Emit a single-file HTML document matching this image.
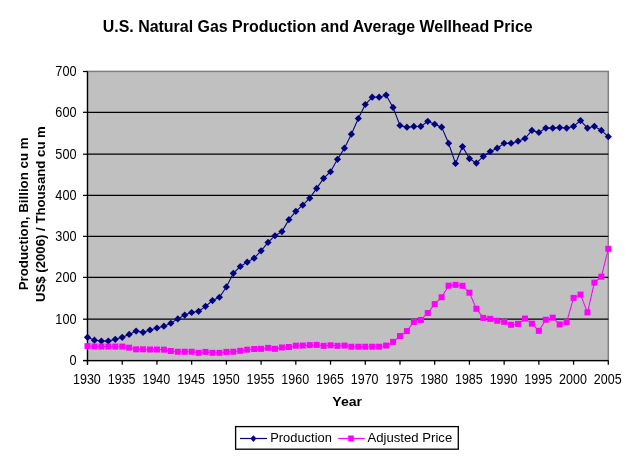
<!DOCTYPE html><html><head><meta charset="utf-8"><style>html,body{margin:0;padding:0;background:#fff;width:636px;height:456px;overflow:hidden;position:relative}</style></head><body><svg width="636" height="456" viewBox="0 0 636 456" style="position:absolute;left:0;top:0;will-change:transform">
<rect x="0" y="0" width="636" height="456" fill="#fff"/>
<rect x="87.5" y="71.4" width="520.8" height="289.1" fill="#C0C0C0" stroke="#808080" stroke-width="1.5"/>
<line x1="87.5" y1="319.20" x2="608.3" y2="319.20" stroke="#000" stroke-width="1.25"/>
<line x1="87.5" y1="277.40" x2="608.3" y2="277.40" stroke="#000" stroke-width="1.25"/>
<line x1="87.5" y1="236.40" x2="608.3" y2="236.40" stroke="#000" stroke-width="1.25"/>
<line x1="87.5" y1="195.40" x2="608.3" y2="195.40" stroke="#000" stroke-width="1.25"/>
<line x1="87.5" y1="154.20" x2="608.3" y2="154.20" stroke="#000" stroke-width="1.25"/>
<line x1="87.5" y1="112.30" x2="608.3" y2="112.30" stroke="#000" stroke-width="1.25"/>
<line x1="87.5" y1="71.4" x2="87.5" y2="364.7" stroke="#000" stroke-width="1.25"/>
<line x1="83.0" y1="360.5" x2="608.3" y2="360.5" stroke="#000" stroke-width="1.25"/>
<line x1="83.0" y1="360.50" x2="87.5" y2="360.50" stroke="#000" stroke-width="1.25"/>
<line x1="83.0" y1="319.20" x2="87.5" y2="319.20" stroke="#000" stroke-width="1.25"/>
<line x1="83.0" y1="277.40" x2="87.5" y2="277.40" stroke="#000" stroke-width="1.25"/>
<line x1="83.0" y1="236.40" x2="87.5" y2="236.40" stroke="#000" stroke-width="1.25"/>
<line x1="83.0" y1="195.40" x2="87.5" y2="195.40" stroke="#000" stroke-width="1.25"/>
<line x1="83.0" y1="154.20" x2="87.5" y2="154.20" stroke="#000" stroke-width="1.25"/>
<line x1="83.0" y1="112.30" x2="87.5" y2="112.30" stroke="#000" stroke-width="1.25"/>
<line x1="83.0" y1="71.50" x2="87.5" y2="71.50" stroke="#000" stroke-width="1.25"/>
<line x1="87.50" y1="360.5" x2="87.50" y2="364.7" stroke="#000" stroke-width="1.25"/>
<line x1="122.22" y1="360.5" x2="122.22" y2="364.7" stroke="#000" stroke-width="1.25"/>
<line x1="156.94" y1="360.5" x2="156.94" y2="364.7" stroke="#000" stroke-width="1.25"/>
<line x1="191.66" y1="360.5" x2="191.66" y2="364.7" stroke="#000" stroke-width="1.25"/>
<line x1="226.38" y1="360.5" x2="226.38" y2="364.7" stroke="#000" stroke-width="1.25"/>
<line x1="261.10" y1="360.5" x2="261.10" y2="364.7" stroke="#000" stroke-width="1.25"/>
<line x1="295.82" y1="360.5" x2="295.82" y2="364.7" stroke="#000" stroke-width="1.25"/>
<line x1="330.54" y1="360.5" x2="330.54" y2="364.7" stroke="#000" stroke-width="1.25"/>
<line x1="365.26" y1="360.5" x2="365.26" y2="364.7" stroke="#000" stroke-width="1.25"/>
<line x1="399.98" y1="360.5" x2="399.98" y2="364.7" stroke="#000" stroke-width="1.25"/>
<line x1="434.70" y1="360.5" x2="434.70" y2="364.7" stroke="#000" stroke-width="1.25"/>
<line x1="469.42" y1="360.5" x2="469.42" y2="364.7" stroke="#000" stroke-width="1.25"/>
<line x1="504.14" y1="360.5" x2="504.14" y2="364.7" stroke="#000" stroke-width="1.25"/>
<line x1="538.86" y1="360.5" x2="538.86" y2="364.7" stroke="#000" stroke-width="1.25"/>
<line x1="573.58" y1="360.5" x2="573.58" y2="364.7" stroke="#000" stroke-width="1.25"/>
<line x1="608.30" y1="360.5" x2="608.30" y2="364.7" stroke="#000" stroke-width="1.25"/>
<text transform="translate(76.5,364.90) scale(1,1.1)" text-anchor="end" font-family='"Liberation Sans", sans-serif' font-size="12.7" fill="#000">0</text>
<text transform="translate(76.5,323.60) scale(1,1.1)" text-anchor="end" font-family='"Liberation Sans", sans-serif' font-size="12.7" fill="#000">100</text>
<text transform="translate(76.5,281.80) scale(1,1.1)" text-anchor="end" font-family='"Liberation Sans", sans-serif' font-size="12.7" fill="#000">200</text>
<text transform="translate(76.5,240.80) scale(1,1.1)" text-anchor="end" font-family='"Liberation Sans", sans-serif' font-size="12.7" fill="#000">300</text>
<text transform="translate(76.5,199.80) scale(1,1.1)" text-anchor="end" font-family='"Liberation Sans", sans-serif' font-size="12.7" fill="#000">400</text>
<text transform="translate(76.5,158.60) scale(1,1.1)" text-anchor="end" font-family='"Liberation Sans", sans-serif' font-size="12.7" fill="#000">500</text>
<text transform="translate(76.5,116.70) scale(1,1.1)" text-anchor="end" font-family='"Liberation Sans", sans-serif' font-size="12.7" fill="#000">600</text>
<text transform="translate(76.5,75.90) scale(1,1.1)" text-anchor="end" font-family='"Liberation Sans", sans-serif' font-size="12.7" fill="#000">700</text>
<text transform="translate(86.90,383.5) scale(1,1.12)" text-anchor="middle" font-family='"Liberation Sans", sans-serif' font-size="12.5" fill="#000">1930</text>
<text transform="translate(121.62,383.5) scale(1,1.12)" text-anchor="middle" font-family='"Liberation Sans", sans-serif' font-size="12.5" fill="#000">1935</text>
<text transform="translate(156.34,383.5) scale(1,1.12)" text-anchor="middle" font-family='"Liberation Sans", sans-serif' font-size="12.5" fill="#000">1940</text>
<text transform="translate(191.06,383.5) scale(1,1.12)" text-anchor="middle" font-family='"Liberation Sans", sans-serif' font-size="12.5" fill="#000">1945</text>
<text transform="translate(225.78,383.5) scale(1,1.12)" text-anchor="middle" font-family='"Liberation Sans", sans-serif' font-size="12.5" fill="#000">1950</text>
<text transform="translate(260.50,383.5) scale(1,1.12)" text-anchor="middle" font-family='"Liberation Sans", sans-serif' font-size="12.5" fill="#000">1955</text>
<text transform="translate(295.22,383.5) scale(1,1.12)" text-anchor="middle" font-family='"Liberation Sans", sans-serif' font-size="12.5" fill="#000">1960</text>
<text transform="translate(329.94,383.5) scale(1,1.12)" text-anchor="middle" font-family='"Liberation Sans", sans-serif' font-size="12.5" fill="#000">1965</text>
<text transform="translate(364.66,383.5) scale(1,1.12)" text-anchor="middle" font-family='"Liberation Sans", sans-serif' font-size="12.5" fill="#000">1970</text>
<text transform="translate(399.38,383.5) scale(1,1.12)" text-anchor="middle" font-family='"Liberation Sans", sans-serif' font-size="12.5" fill="#000">1975</text>
<text transform="translate(434.10,383.5) scale(1,1.12)" text-anchor="middle" font-family='"Liberation Sans", sans-serif' font-size="12.5" fill="#000">1980</text>
<text transform="translate(468.82,383.5) scale(1,1.12)" text-anchor="middle" font-family='"Liberation Sans", sans-serif' font-size="12.5" fill="#000">1985</text>
<text transform="translate(503.54,383.5) scale(1,1.12)" text-anchor="middle" font-family='"Liberation Sans", sans-serif' font-size="12.5" fill="#000">1990</text>
<text transform="translate(538.26,383.5) scale(1,1.12)" text-anchor="middle" font-family='"Liberation Sans", sans-serif' font-size="12.5" fill="#000">1995</text>
<text transform="translate(572.98,383.5) scale(1,1.12)" text-anchor="middle" font-family='"Liberation Sans", sans-serif' font-size="12.5" fill="#000">2000</text>
<text transform="translate(607.70,383.5) scale(1,1.12)" text-anchor="middle" font-family='"Liberation Sans", sans-serif' font-size="12.5" fill="#000">2005</text>
<polyline points="87.50,337.29 94.44,340.18 101.39,341.01 108.33,341.01 115.28,339.36 122.22,337.29 129.16,334.40 136.11,331.10 143.05,332.34 150.00,329.99 156.94,328.00 163.88,326.15 170.83,323.26 177.77,318.88 184.72,315.08 191.66,312.52 198.60,311.28 205.55,306.33 212.49,300.55 219.44,297.25 226.38,286.92 233.32,273.30 240.27,266.49 247.21,262.15 254.16,258.19 261.10,250.80 268.04,242.42 274.99,235.73 281.93,231.60 288.88,219.63 295.82,211.37 302.76,205.18 309.71,198.16 316.65,188.42 323.60,178.34 330.54,171.74 337.48,159.35 344.43,148.20 351.37,134.17 358.32,118.48 365.26,104.52 372.20,97.22 379.15,97.22 386.09,95.11 393.04,107.41 399.98,125.50 406.92,127.15 413.87,126.41 420.81,126.41 427.76,121.37 434.70,124.26 441.64,127.15 448.59,143.25 455.53,163.48 462.48,146.55 469.42,158.53 476.36,163.07 483.31,156.46 490.25,151.51 497.20,148.20 504.14,143.25 511.08,143.25 518.03,141.19 524.97,138.50 531.92,130.45 538.86,132.52 545.80,128.10 552.75,128.10 559.69,127.56 566.64,128.10 573.58,126.32 580.52,120.54 587.47,128.10 594.41,126.32 601.36,130.45 608.30,136.64" fill="none" stroke="#000080" stroke-width="1.05"/>
<polyline points="87.50,346.13 94.44,346.50 101.39,346.58 108.33,346.58 115.28,346.58 122.22,346.58 129.16,347.70 136.11,349.31 143.05,349.31 150.00,349.51 156.94,349.51 163.88,349.68 170.83,351.00 177.77,351.74 184.72,351.74 191.66,351.74 198.60,352.82 205.55,351.91 212.49,352.82 219.44,352.82 226.38,351.91 233.32,351.74 240.27,350.79 247.21,349.68 254.16,349.02 261.10,348.85 268.04,347.90 274.99,348.85 281.93,347.49 288.88,347.04 295.82,345.72 302.76,345.59 309.71,345.14 316.65,344.93 323.60,345.84 330.54,345.30 337.48,345.84 344.43,345.59 351.37,346.71 358.32,346.71 365.26,346.71 372.20,346.71 379.15,346.71 386.09,345.59 393.04,341.92 399.98,336.05 406.92,331.10 413.87,321.89 420.81,319.95 427.76,313.02 434.70,304.10 441.64,297.25 448.59,285.69 455.53,284.86 462.48,285.81 469.42,292.70 476.36,308.81 483.31,317.89 490.25,318.88 497.20,320.78 504.14,321.81 511.08,324.78 518.03,323.92 524.97,318.59 531.92,323.67 538.86,330.81 545.80,319.75 552.75,317.68 559.69,324.49 566.64,322.10 573.58,297.91 580.52,294.60 587.47,312.40 594.41,282.59 601.36,276.69 608.30,248.82" fill="none" stroke="#FF00FF" stroke-width="1.05"/>
<path d="M87.50 333.69L91.10 337.29L87.50 340.89L83.90 337.29Z" fill="#000080"/>
<path d="M94.44 336.58L98.04 340.18L94.44 343.78L90.84 340.18Z" fill="#000080"/>
<path d="M101.39 337.41L104.99 341.01L101.39 344.61L97.79 341.01Z" fill="#000080"/>
<path d="M108.33 337.41L111.93 341.01L108.33 344.61L104.73 341.01Z" fill="#000080"/>
<path d="M115.28 335.76L118.88 339.36L115.28 342.96L111.68 339.36Z" fill="#000080"/>
<path d="M122.22 333.69L125.82 337.29L122.22 340.89L118.62 337.29Z" fill="#000080"/>
<path d="M129.16 330.80L132.76 334.40L129.16 338.00L125.56 334.40Z" fill="#000080"/>
<path d="M136.11 327.50L139.71 331.10L136.11 334.70L132.51 331.10Z" fill="#000080"/>
<path d="M143.05 328.74L146.65 332.34L143.05 335.94L139.45 332.34Z" fill="#000080"/>
<path d="M150.00 326.39L153.60 329.99L150.00 333.59L146.40 329.99Z" fill="#000080"/>
<path d="M156.94 324.40L160.54 328.00L156.94 331.60L153.34 328.00Z" fill="#000080"/>
<path d="M163.88 322.55L167.48 326.15L163.88 329.75L160.28 326.15Z" fill="#000080"/>
<path d="M170.83 319.66L174.43 323.26L170.83 326.86L167.23 323.26Z" fill="#000080"/>
<path d="M177.77 315.28L181.37 318.88L177.77 322.48L174.17 318.88Z" fill="#000080"/>
<path d="M184.72 311.48L188.32 315.08L184.72 318.68L181.12 315.08Z" fill="#000080"/>
<path d="M191.66 308.92L195.26 312.52L191.66 316.12L188.06 312.52Z" fill="#000080"/>
<path d="M198.60 307.68L202.20 311.28L198.60 314.88L195.00 311.28Z" fill="#000080"/>
<path d="M205.55 302.73L209.15 306.33L205.55 309.93L201.95 306.33Z" fill="#000080"/>
<path d="M212.49 296.95L216.09 300.55L212.49 304.15L208.89 300.55Z" fill="#000080"/>
<path d="M219.44 293.65L223.04 297.25L219.44 300.85L215.84 297.25Z" fill="#000080"/>
<path d="M226.38 283.32L229.98 286.92L226.38 290.52L222.78 286.92Z" fill="#000080"/>
<path d="M233.32 269.70L236.92 273.30L233.32 276.90L229.72 273.30Z" fill="#000080"/>
<path d="M240.27 262.89L243.87 266.49L240.27 270.09L236.67 266.49Z" fill="#000080"/>
<path d="M247.21 258.55L250.81 262.15L247.21 265.75L243.61 262.15Z" fill="#000080"/>
<path d="M254.16 254.59L257.76 258.19L254.16 261.79L250.56 258.19Z" fill="#000080"/>
<path d="M261.10 247.20L264.70 250.80L261.10 254.40L257.50 250.80Z" fill="#000080"/>
<path d="M268.04 238.82L271.64 242.42L268.04 246.02L264.44 242.42Z" fill="#000080"/>
<path d="M274.99 232.13L278.59 235.73L274.99 239.33L271.39 235.73Z" fill="#000080"/>
<path d="M281.93 228.00L285.53 231.60L281.93 235.20L278.33 231.60Z" fill="#000080"/>
<path d="M288.88 216.03L292.48 219.63L288.88 223.23L285.28 219.63Z" fill="#000080"/>
<path d="M295.82 207.77L299.42 211.37L295.82 214.97L292.22 211.37Z" fill="#000080"/>
<path d="M302.76 201.58L306.36 205.18L302.76 208.78L299.16 205.18Z" fill="#000080"/>
<path d="M309.71 194.56L313.31 198.16L309.71 201.76L306.11 198.16Z" fill="#000080"/>
<path d="M316.65 184.82L320.25 188.42L316.65 192.02L313.05 188.42Z" fill="#000080"/>
<path d="M323.60 174.74L327.20 178.34L323.60 181.94L320.00 178.34Z" fill="#000080"/>
<path d="M330.54 168.14L334.14 171.74L330.54 175.34L326.94 171.74Z" fill="#000080"/>
<path d="M337.48 155.75L341.08 159.35L337.48 162.95L333.88 159.35Z" fill="#000080"/>
<path d="M344.43 144.60L348.03 148.20L344.43 151.80L340.83 148.20Z" fill="#000080"/>
<path d="M351.37 130.57L354.97 134.17L351.37 137.77L347.77 134.17Z" fill="#000080"/>
<path d="M358.32 114.88L361.92 118.48L358.32 122.08L354.72 118.48Z" fill="#000080"/>
<path d="M365.26 100.92L368.86 104.52L365.26 108.12L361.66 104.52Z" fill="#000080"/>
<path d="M372.20 93.62L375.80 97.22L372.20 100.82L368.60 97.22Z" fill="#000080"/>
<path d="M379.15 93.62L382.75 97.22L379.15 100.82L375.55 97.22Z" fill="#000080"/>
<path d="M386.09 91.51L389.69 95.11L386.09 98.71L382.49 95.11Z" fill="#000080"/>
<path d="M393.04 103.81L396.64 107.41L393.04 111.01L389.44 107.41Z" fill="#000080"/>
<path d="M399.98 121.90L403.58 125.50L399.98 129.10L396.38 125.50Z" fill="#000080"/>
<path d="M406.92 123.55L410.52 127.15L406.92 130.75L403.32 127.15Z" fill="#000080"/>
<path d="M413.87 122.81L417.47 126.41L413.87 130.01L410.27 126.41Z" fill="#000080"/>
<path d="M420.81 122.81L424.41 126.41L420.81 130.01L417.21 126.41Z" fill="#000080"/>
<path d="M427.76 117.77L431.36 121.37L427.76 124.97L424.16 121.37Z" fill="#000080"/>
<path d="M434.70 120.66L438.30 124.26L434.70 127.86L431.10 124.26Z" fill="#000080"/>
<path d="M441.64 123.55L445.24 127.15L441.64 130.75L438.04 127.15Z" fill="#000080"/>
<path d="M448.59 139.65L452.19 143.25L448.59 146.85L444.99 143.25Z" fill="#000080"/>
<path d="M455.53 159.88L459.13 163.48L455.53 167.08L451.93 163.48Z" fill="#000080"/>
<path d="M462.48 142.95L466.08 146.55L462.48 150.15L458.88 146.55Z" fill="#000080"/>
<path d="M469.42 154.93L473.02 158.53L469.42 162.13L465.82 158.53Z" fill="#000080"/>
<path d="M476.36 159.47L479.96 163.07L476.36 166.67L472.76 163.07Z" fill="#000080"/>
<path d="M483.31 152.86L486.91 156.46L483.31 160.06L479.71 156.46Z" fill="#000080"/>
<path d="M490.25 147.91L493.85 151.51L490.25 155.11L486.65 151.51Z" fill="#000080"/>
<path d="M497.20 144.60L500.80 148.20L497.20 151.80L493.60 148.20Z" fill="#000080"/>
<path d="M504.14 139.65L507.74 143.25L504.14 146.85L500.54 143.25Z" fill="#000080"/>
<path d="M511.08 139.65L514.68 143.25L511.08 146.85L507.48 143.25Z" fill="#000080"/>
<path d="M518.03 137.59L521.63 141.19L518.03 144.79L514.43 141.19Z" fill="#000080"/>
<path d="M524.97 134.90L528.57 138.50L524.97 142.10L521.37 138.50Z" fill="#000080"/>
<path d="M531.92 126.85L535.52 130.45L531.92 134.05L528.32 130.45Z" fill="#000080"/>
<path d="M538.86 128.92L542.46 132.52L538.86 136.12L535.26 132.52Z" fill="#000080"/>
<path d="M545.80 124.50L549.40 128.10L545.80 131.70L542.20 128.10Z" fill="#000080"/>
<path d="M552.75 124.50L556.35 128.10L552.75 131.70L549.15 128.10Z" fill="#000080"/>
<path d="M559.69 123.96L563.29 127.56L559.69 131.16L556.09 127.56Z" fill="#000080"/>
<path d="M566.64 124.50L570.24 128.10L566.64 131.70L563.04 128.10Z" fill="#000080"/>
<path d="M573.58 122.72L577.18 126.32L573.58 129.92L569.98 126.32Z" fill="#000080"/>
<path d="M580.52 116.94L584.12 120.54L580.52 124.14L576.92 120.54Z" fill="#000080"/>
<path d="M587.47 124.50L591.07 128.10L587.47 131.70L583.87 128.10Z" fill="#000080"/>
<path d="M594.41 122.72L598.01 126.32L594.41 129.92L590.81 126.32Z" fill="#000080"/>
<path d="M601.36 126.85L604.96 130.45L601.36 134.05L597.76 130.45Z" fill="#000080"/>
<path d="M608.30 133.04L611.90 136.64L608.30 140.24L604.70 136.64Z" fill="#000080"/>
<rect x="84.50" y="343.13" width="6.0" height="6.0" fill="#FF00FF"/>
<rect x="91.44" y="343.50" width="6.0" height="6.0" fill="#FF00FF"/>
<rect x="98.39" y="343.58" width="6.0" height="6.0" fill="#FF00FF"/>
<rect x="105.33" y="343.58" width="6.0" height="6.0" fill="#FF00FF"/>
<rect x="112.28" y="343.58" width="6.0" height="6.0" fill="#FF00FF"/>
<rect x="119.22" y="343.58" width="6.0" height="6.0" fill="#FF00FF"/>
<rect x="126.16" y="344.70" width="6.0" height="6.0" fill="#FF00FF"/>
<rect x="133.11" y="346.31" width="6.0" height="6.0" fill="#FF00FF"/>
<rect x="140.05" y="346.31" width="6.0" height="6.0" fill="#FF00FF"/>
<rect x="147.00" y="346.51" width="6.0" height="6.0" fill="#FF00FF"/>
<rect x="153.94" y="346.51" width="6.0" height="6.0" fill="#FF00FF"/>
<rect x="160.88" y="346.68" width="6.0" height="6.0" fill="#FF00FF"/>
<rect x="167.83" y="348.00" width="6.0" height="6.0" fill="#FF00FF"/>
<rect x="174.77" y="348.74" width="6.0" height="6.0" fill="#FF00FF"/>
<rect x="181.72" y="348.74" width="6.0" height="6.0" fill="#FF00FF"/>
<rect x="188.66" y="348.74" width="6.0" height="6.0" fill="#FF00FF"/>
<rect x="195.60" y="349.82" width="6.0" height="6.0" fill="#FF00FF"/>
<rect x="202.55" y="348.91" width="6.0" height="6.0" fill="#FF00FF"/>
<rect x="209.49" y="349.82" width="6.0" height="6.0" fill="#FF00FF"/>
<rect x="216.44" y="349.82" width="6.0" height="6.0" fill="#FF00FF"/>
<rect x="223.38" y="348.91" width="6.0" height="6.0" fill="#FF00FF"/>
<rect x="230.32" y="348.74" width="6.0" height="6.0" fill="#FF00FF"/>
<rect x="237.27" y="347.79" width="6.0" height="6.0" fill="#FF00FF"/>
<rect x="244.21" y="346.68" width="6.0" height="6.0" fill="#FF00FF"/>
<rect x="251.16" y="346.02" width="6.0" height="6.0" fill="#FF00FF"/>
<rect x="258.10" y="345.85" width="6.0" height="6.0" fill="#FF00FF"/>
<rect x="265.04" y="344.90" width="6.0" height="6.0" fill="#FF00FF"/>
<rect x="271.99" y="345.85" width="6.0" height="6.0" fill="#FF00FF"/>
<rect x="278.93" y="344.49" width="6.0" height="6.0" fill="#FF00FF"/>
<rect x="285.88" y="344.04" width="6.0" height="6.0" fill="#FF00FF"/>
<rect x="292.82" y="342.72" width="6.0" height="6.0" fill="#FF00FF"/>
<rect x="299.76" y="342.59" width="6.0" height="6.0" fill="#FF00FF"/>
<rect x="306.71" y="342.14" width="6.0" height="6.0" fill="#FF00FF"/>
<rect x="313.65" y="341.93" width="6.0" height="6.0" fill="#FF00FF"/>
<rect x="320.60" y="342.84" width="6.0" height="6.0" fill="#FF00FF"/>
<rect x="327.54" y="342.30" width="6.0" height="6.0" fill="#FF00FF"/>
<rect x="334.48" y="342.84" width="6.0" height="6.0" fill="#FF00FF"/>
<rect x="341.43" y="342.59" width="6.0" height="6.0" fill="#FF00FF"/>
<rect x="348.37" y="343.71" width="6.0" height="6.0" fill="#FF00FF"/>
<rect x="355.32" y="343.71" width="6.0" height="6.0" fill="#FF00FF"/>
<rect x="362.26" y="343.71" width="6.0" height="6.0" fill="#FF00FF"/>
<rect x="369.20" y="343.71" width="6.0" height="6.0" fill="#FF00FF"/>
<rect x="376.15" y="343.71" width="6.0" height="6.0" fill="#FF00FF"/>
<rect x="383.09" y="342.59" width="6.0" height="6.0" fill="#FF00FF"/>
<rect x="390.04" y="338.92" width="6.0" height="6.0" fill="#FF00FF"/>
<rect x="396.98" y="333.05" width="6.0" height="6.0" fill="#FF00FF"/>
<rect x="403.92" y="328.10" width="6.0" height="6.0" fill="#FF00FF"/>
<rect x="410.87" y="318.89" width="6.0" height="6.0" fill="#FF00FF"/>
<rect x="417.81" y="316.95" width="6.0" height="6.0" fill="#FF00FF"/>
<rect x="424.76" y="310.02" width="6.0" height="6.0" fill="#FF00FF"/>
<rect x="431.70" y="301.10" width="6.0" height="6.0" fill="#FF00FF"/>
<rect x="438.64" y="294.25" width="6.0" height="6.0" fill="#FF00FF"/>
<rect x="445.59" y="282.69" width="6.0" height="6.0" fill="#FF00FF"/>
<rect x="452.53" y="281.86" width="6.0" height="6.0" fill="#FF00FF"/>
<rect x="459.48" y="282.81" width="6.0" height="6.0" fill="#FF00FF"/>
<rect x="466.42" y="289.70" width="6.0" height="6.0" fill="#FF00FF"/>
<rect x="473.36" y="305.81" width="6.0" height="6.0" fill="#FF00FF"/>
<rect x="480.31" y="314.89" width="6.0" height="6.0" fill="#FF00FF"/>
<rect x="487.25" y="315.88" width="6.0" height="6.0" fill="#FF00FF"/>
<rect x="494.20" y="317.78" width="6.0" height="6.0" fill="#FF00FF"/>
<rect x="501.14" y="318.81" width="6.0" height="6.0" fill="#FF00FF"/>
<rect x="508.08" y="321.78" width="6.0" height="6.0" fill="#FF00FF"/>
<rect x="515.03" y="320.92" width="6.0" height="6.0" fill="#FF00FF"/>
<rect x="521.97" y="315.59" width="6.0" height="6.0" fill="#FF00FF"/>
<rect x="528.92" y="320.67" width="6.0" height="6.0" fill="#FF00FF"/>
<rect x="535.86" y="327.81" width="6.0" height="6.0" fill="#FF00FF"/>
<rect x="542.80" y="316.75" width="6.0" height="6.0" fill="#FF00FF"/>
<rect x="549.75" y="314.68" width="6.0" height="6.0" fill="#FF00FF"/>
<rect x="556.69" y="321.49" width="6.0" height="6.0" fill="#FF00FF"/>
<rect x="563.64" y="319.10" width="6.0" height="6.0" fill="#FF00FF"/>
<rect x="570.58" y="294.91" width="6.0" height="6.0" fill="#FF00FF"/>
<rect x="577.52" y="291.60" width="6.0" height="6.0" fill="#FF00FF"/>
<rect x="584.47" y="309.40" width="6.0" height="6.0" fill="#FF00FF"/>
<rect x="591.41" y="279.59" width="6.0" height="6.0" fill="#FF00FF"/>
<rect x="598.36" y="273.69" width="6.0" height="6.0" fill="#FF00FF"/>
<rect x="605.30" y="245.82" width="6.0" height="6.0" fill="#FF00FF"/>
<text x="317.7" y="31.7" text-anchor="middle" font-family='"Liberation Sans", sans-serif' font-weight="bold" font-size="15.95" fill="#000">U.S. Natural Gas Production and Average Wellhead Price</text>
<text transform="translate(28.1,213.9) rotate(-90)" text-anchor="middle" font-family='"Liberation Sans", sans-serif' font-weight="bold" font-size="13.3" fill="#000">Production, Billion cu m</text>
<text transform="translate(45.4,214.1) rotate(-90)" text-anchor="middle" font-family='"Liberation Sans", sans-serif' font-weight="bold" font-size="13.2" fill="#000">US$ (2006) / Thousand cu m</text>
<text transform="translate(347.2,406.4) scale(1.06,1)" text-anchor="middle" font-family='"Liberation Sans", sans-serif' font-weight="bold" font-size="13.3" fill="#000">Year</text>
<rect x="235.6" y="426.6" width="222.7" height="22.6" fill="#fff" stroke="#000" stroke-width="1.3"/>
<line x1="240" y1="438.5" x2="267" y2="438.5" stroke="#000080" stroke-width="1.2"/>
<path d="M253.4 435.20000000000005L256.4 438.6L253.4 442.0L250.4 438.6Z" fill="#000080"/>
<text transform="translate(270.2,441.8) scale(1,1.04)" font-family='"Liberation Sans", sans-serif' font-size="12.9" fill="#000">Production</text>
<line x1="338.2" y1="438.5" x2="364.6" y2="438.5" stroke="#FF00FF" stroke-width="1.2"/>
<rect x="348.2" y="435.5" width="5.6" height="6" fill="#FF00FF"/>
<text transform="translate(367.5,441.8) scale(1,1.04)" font-family='"Liberation Sans", sans-serif' font-size="13.15" fill="#000">Adjusted Price</text>
</svg></body></html>
